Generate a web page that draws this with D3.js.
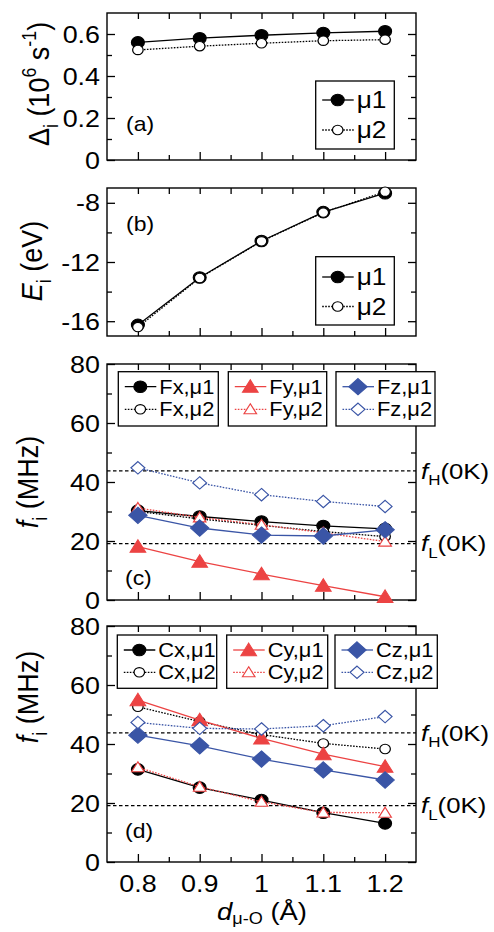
<!DOCTYPE html>
<html>
<head>
<meta charset="utf-8">
<script src="https://cdn.jsdelivr.net/npm/d3@7"></script>
<style>
  html, body { margin: 0; padding: 0; background: #fff; }
  svg { display: block; }
  text { font-family: "Liberation Sans", Arial, Helvetica, sans-serif; fill: #000; }
</style>
</head>
<body>
<svg id="fig" width="494" height="932"></svg>
<script>
// ---- data ----
const xValues = [0.8, 0.9, 1.0, 1.1, 1.2];
const xTicks = [0.8, 0.9, 1.0, 1.1, 1.2];
const xMinorTicks = [0.85, 0.95, 1.05, 1.15];
const xTickLabels = ["0.8", "0.9", "1", "1.1", "1.2"];

// (a) Δ_i (10^6 s^-1)
const deltaMu1 = [0.560, 0.580, 0.594, 0.605, 0.613];
const deltaMu2 = [0.524, 0.542, 0.556, 0.568, 0.573];
const deltaTicks = [0, 0.2, 0.4, 0.6];
const deltaMinorTicks = [0.1, 0.3, 0.5];
const deltaTickLabels = ["0", "0.2", "0.4", "0.6"];

// (b) E_i (eV)
const energyMu1 = [-16.25, -13.05, -10.58, -8.63, -7.35];
const energyMu2 = [-16.40, -13.08, -10.60, -8.66, -7.25];
const energyTicks = [-16, -12, -8];
const energyMinorTicks = [-14, -10];
const energyTickLabels = ["-16", "-12", "-8"];

// (c) f_i (MHz), F site
const fxMu1 = [30.3, 28.3, 26.6, 25.1, 24.1];
const fxMu2 = [30.0, 27.5, 25.3, 23.2, 21.5];
const fyMu1 = [18.1, 13.0, 8.8, 4.9, 1.1];
const fyMu2 = [31.2, 28.0, 25.5, 22.8, 19.8];
const fzMu1 = [28.7, 24.4, 22.0, 21.7, 23.8];
const fzMu2 = [44.8, 39.7, 35.7, 33.4, 31.7];

// (d) f_i (MHz), C site
const cxMu1 = [31.4, 25.2, 21.0, 16.7, 13.1];
const cxMu2 = [52.6, 47.6, 43.2, 40.2, 38.3];
const cyMu1 = [54.9, 48.1, 41.9, 36.6, 32.3];
const cyMu2 = [32.1, 25.5, 20.4, 16.8, 16.7];
const czMu1 = [43.0, 39.4, 34.9, 31.2, 27.8];
const czMu2 = [47.3, 45.3, 45.1, 46.2, 49.3];

const freqTicks = [0, 20, 40, 60, 80];
const freqMinorTicks = [10, 30, 50, 70];
const freqTickLabels = ["0", "20", "40", "60", "80"];

// 0 K reference frequencies
const fHigh0K = 43.8;
const fLow0K = 19.1;

// ---- drawing ----
const BLACK = "#000000", RED = "#ec4343", BLUE = "#3a55a6";
const SX = 1.12;           // horizontal text/marker stretch
const L = 107, R = 416;
const svg = d3.select("#fig");
svg.append("rect").attr("width", 494).attr("height", 932).attr("fill", "#fff");

const x = d3.scaleLinear().domain([0.75, 1.25]).range([L, R]);

function stext(parent, px, py, anchor, size, parts, rotate, subShift = 0.3) {
  const t = parent.append("text")
    .attr("transform", `translate(${px},${py}) scale(${SX},1)` + (rotate ? " rotate(-90)" : ""))
    .attr("text-anchor", anchor)
    .attr("font-size", size);
  let shift = 0;
  (Array.isArray(parts) ? parts : [parts]).forEach(p => {
    if (typeof p === "string") p = { t: p };
    const ts = t.append("tspan").text(p.t);
    if (p.i) ts.attr("font-style", "italic");
    const target = p.sub ? size * subShift : p.sup ? -size * 0.42 : 0;
    if (target !== shift) ts.attr("dy", target - shift);
    shift = target;
    if (p.sub || p.sup) ts.attr("font-size", size * 0.66);
  });
  return t;
}

function markerPath(kind, open) {
  const p = d3.path();
  if (kind === "circle") {
    const r = open ? 4.7 : 5.8;
    p.moveTo(r, 0); p.arc(0, 0, r, 0, 2 * Math.PI);
  } else if (kind === "triangle") {
    const w = open ? 5.6 : 7, h = open ? 10 : 12.5;
    p.moveTo(0, -h * 0.55); p.lineTo(w, h * 0.45); p.lineTo(-w, h * 0.45); p.closePath();
  } else {
    const d = open ? 6.2 : 8.2;
    p.moveTo(0, -d); p.lineTo(d, 0); p.lineTo(0, d); p.lineTo(-d, 0); p.closePath();
  }
  return p.toString();
}

function drawMarker(g, px, py, kind, open, color) {
  g.append("path")
    .attr("d", markerPath(kind, open))
    .attr("transform", `translate(${px},${py}) scale(${SX},1)`)
    .attr("fill", open ? "#fff" : color)
    .attr("stroke", color)
    .attr("stroke-width", open ? 1.1 : 1);
}

function drawSeries(g, y, values, color, open, kind) {
  const pts = xValues.map((xv, i) => [x(xv), y(values[i])]);
  g.append("path")
    .attr("d", d3.line()(pts))
    .attr("fill", "none")
    .attr("stroke", color)
    .attr("stroke-width", 1.3)
    .attr("stroke-dasharray", open ? "1.6,1.4" : null);
  pts.forEach(([px, py]) => drawMarker(g, px, py, kind, open, color));
}

function frame(g, y, major, minor, labels, showX) {
  const y0 = y.range()[0], y1 = y.range()[1];
  const tickAxis = (axis, tr) => g.append("g").attr("transform", tr).call(axis)
    .call(s => { s.select(".domain").remove(); s.selectAll("text").remove();
                 s.selectAll("line").attr("stroke", "#000").attr("stroke-width", 1.3); });
  tickAxis(d3.axisBottom(x).tickValues(xTicks).tickSize(-8).tickFormat(""), `translate(0,${y0})`);
  tickAxis(d3.axisBottom(x).tickValues(xMinorTicks).tickSize(-5).tickFormat(""), `translate(0,${y0})`);
  tickAxis(d3.axisTop(x).tickValues(xTicks).tickSize(-6).tickFormat(""), `translate(0,${y1})`);
  tickAxis(d3.axisTop(x).tickValues(xMinorTicks).tickSize(-6).tickFormat(""), `translate(0,${y1})`);
  tickAxis(d3.axisLeft(y).tickValues(major).tickSize(-8).tickFormat(""), `translate(${L},0)`);
  tickAxis(d3.axisLeft(y).tickValues(minor).tickSize(-5).tickFormat(""), `translate(${L},0)`);
  tickAxis(d3.axisRight(y).tickValues(major).tickSize(-8).tickFormat(""), `translate(${R},0)`);
  tickAxis(d3.axisRight(y).tickValues(minor).tickSize(-5).tickFormat(""), `translate(${R},0)`);
  g.append("rect").attr("x", L).attr("y", y1).attr("width", R - L).attr("height", y0 - y1)
    .attr("fill", "none").attr("stroke", "#000").attr("stroke-width", 1.4);
  major.forEach((v, i) => stext(g, 100, y(v) + 8.5, "end", 24, labels[i]));
  if (showX) xTicks.forEach((v, i) => stext(g, x(v), y0 + 30, "middle", 24, xTickLabels[i]));
}

function legendBox(g, x0, x1, y0, y1, rows) {
  g.append("rect").attr("x", x0).attr("y", y0).attr("width", x1 - x0).attr("height", y1 - y0)
    .attr("fill", "#fff").attr("stroke", "#000").attr("stroke-width", 1.3);
  rows.forEach(r => {
    g.append("line").attr("x1", x0 + 6.5).attr("x2", x0 + 38).attr("y1", r.y).attr("y2", r.y)
      .attr("stroke", r.color).attr("stroke-width", 1.3)
      .attr("stroke-dasharray", r.open ? "1.6,1.4" : null);
    drawMarker(g, x0 + 22, r.y, r.kind, r.open, r.color);
    stext(g, x0 + 41, r.y + r.size * 0.36, "start", r.size, r.label);
  });
}

function refLines(g, y) {
  [[fHigh0K, "H"], [fLow0K, "L"]].forEach(([v, s]) => {
    g.append("line").attr("x1", L).attr("x2", R).attr("y1", y(v)).attr("y2", y(v))
      .attr("stroke", "#000").attr("stroke-width", 1.2).attr("stroke-dasharray", "3.5,2.5");
    stext(g, 421, y(v) + 7.8, "start", 23, [{ t: "f", i: true }, { t: s, sub: true }, "(0K)"]);
  });
}

// ---- panel (a) ----
{
  const g = svg.append("g");
  const y = d3.scaleLinear().domain([0, 0.7]).range([160, 13]);
  frame(g, y, deltaTicks, deltaMinorTicks, deltaTickLabels, false);
  drawSeries(g, y, deltaMu1, BLACK, false, "circle");
  drawSeries(g, y, deltaMu2, BLACK, true, "circle");
  legendBox(g, 315.7, 394.3, 81, 149, [
    { y: 100, color: BLACK, open: false, kind: "circle", size: 23.5, label: "μ1" },
    { y: 130, color: BLACK, open: true, kind: "circle", size: 23.5, label: "μ2" }
  ]);
  stext(g, 126, 131, "start", 20.5, "(a)");
  stext(g, 49, 84, "middle", 27, ["Δ", { t: "i", sub: true }, " (10", { t: "6", sup: true }, " s", { t: "-1", sup: true }, ")"], true);
}

// ---- panel (b) ----
{
  const g = svg.append("g");
  const y = d3.scaleLinear().domain([-17, -7]).range([336, 188]);
  frame(g, y, energyTicks, energyMinorTicks, energyTickLabels, false);
  drawSeries(g, y, energyMu1, BLACK, false, "circle");
  drawSeries(g, y, energyMu2, BLACK, true, "circle");
  legendBox(g, 315.7, 394.3, 256.7, 325, [
    { y: 277, color: BLACK, open: false, kind: "circle", size: 23.5, label: "μ1" },
    { y: 306.5, color: BLACK, open: true, kind: "circle", size: 23.5, label: "μ2" }
  ]);
  stext(g, 126, 231, "start", 20.5, "(b)");
  stext(g, 42, 261, "middle", 27, [{ t: "E", i: true }, { t: "i", sub: true }, " (eV)"], true);
}

// ---- panel (c) ----
{
  const g = svg.append("g");
  const y = d3.scaleLinear().domain([0, 80]).range([600, 364]);
  frame(g, y, freqTicks, freqMinorTicks, freqTickLabels, false);
  refLines(g, y);
  drawSeries(g, y, fxMu1, BLACK, false, "circle");
  drawSeries(g, y, fxMu2, BLACK, true, "circle");
  drawSeries(g, y, fyMu1, RED, false, "triangle");
  drawSeries(g, y, fyMu2, RED, true, "triangle");
  drawSeries(g, y, fzMu1, BLUE, false, "diamond");
  drawSeries(g, y, fzMu2, BLUE, true, "diamond");
  const rowA = 386.7, rowB = 409.3;
  legendBox(g, 118.3, 218.3, 371.7, 426, [
    { y: rowA, color: BLACK, open: false, kind: "circle", size: 19.5, label: "Fx,μ1" },
    { y: rowB, color: BLACK, open: true, kind: "circle", size: 19.5, label: "Fx,μ2" }
  ]);
  legendBox(g, 228.3, 326.7, 371.7, 426, [
    { y: rowA, color: RED, open: false, kind: "triangle", size: 19.5, label: "Fy,μ1" },
    { y: rowB, color: RED, open: true, kind: "triangle", size: 19.5, label: "Fy,μ2" }
  ]);
  legendBox(g, 336, 435, 371.7, 426, [
    { y: rowA, color: BLUE, open: false, kind: "diamond", size: 19.5, label: "Fz,μ1" },
    { y: rowB, color: BLUE, open: true, kind: "diamond", size: 19.5, label: "Fz,μ2" }
  ]);
  stext(g, 125, 585, "start", 20.5, "(c)");
  stext(g, 38, 482, "middle", 27, [{ t: "f", i: true }, { t: "i", sub: true }, " (MHz)"], true);
}

// ---- panel (d) ----
{
  const g = svg.append("g");
  const y = d3.scaleLinear().domain([0, 80]).range([862, 626]);
  frame(g, y, freqTicks, freqMinorTicks, freqTickLabels, true);
  refLines(g, y);
  drawSeries(g, y, cxMu1, BLACK, false, "circle");
  drawSeries(g, y, cxMu2, BLACK, true, "circle");
  drawSeries(g, y, cyMu1, RED, false, "triangle");
  drawSeries(g, y, cyMu2, RED, true, "triangle");
  drawSeries(g, y, czMu1, BLUE, false, "diamond");
  drawSeries(g, y, czMu2, BLUE, true, "diamond");
  const rowA = 650, rowB = 672.3;
  legendBox(g, 117.3, 216.7, 635, 688.3, [
    { y: rowA, color: BLACK, open: false, kind: "circle", size: 19.5, label: "Cx,μ1" },
    { y: rowB, color: BLACK, open: true, kind: "circle", size: 19.5, label: "Cx,μ2" }
  ]);
  legendBox(g, 226.7, 327.7, 635, 688.3, [
    { y: rowA, color: RED, open: false, kind: "triangle", size: 19.5, label: "Cy,μ1" },
    { y: rowB, color: RED, open: true, kind: "triangle", size: 19.5, label: "Cy,μ2" }
  ]);
  legendBox(g, 335, 437.3, 635, 688.3, [
    { y: rowA, color: BLUE, open: false, kind: "diamond", size: 19.5, label: "Cz,μ1" },
    { y: rowB, color: BLUE, open: true, kind: "diamond", size: 19.5, label: "Cz,μ2" }
  ]);
  stext(g, 125, 838, "start", 20.5, "(d)");
  stext(g, 38, 697, "middle", 27, [{ t: "f", i: true }, { t: "i", sub: true }, " (MHz)"], true);
  // x-axis title
  stext(g, 262, 920, "middle", 24.5, [{ t: "d", i: true }, { t: "μ-O", sub: true }, " (Å)"], false, 0.18);
}
</script>
</body>
</html>
